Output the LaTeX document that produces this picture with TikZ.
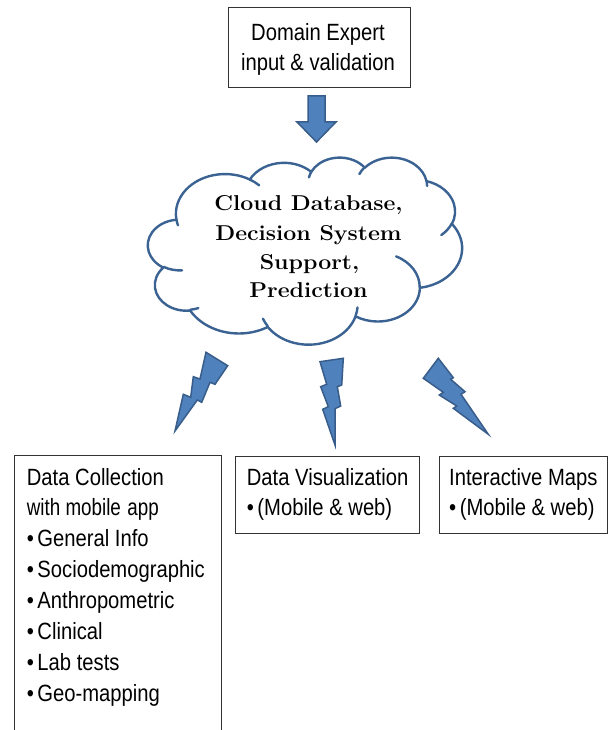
\documentclass[tikz,border=0pt]{standalone}
\usepackage{fontspec}
\newfontfamily\boxfont[FakeStretch=0.86]{Liberation Sans}
\newfontfamily\cloudfont[FakeStretch=1.075]{Latin Modern Roman}
\definecolor{boltfill}{RGB}{79,129,189}
\definecolor{boltline}{RGB}{56,93,138}
\definecolor{cloudline}{RGB}{58,98,146}
\begin{document}
\begin{tikzpicture}[x=1pt,y=-1pt,
  boxline/.style={draw=black!80, line width=1pt},
  lbl/.style={inner sep=0pt, font=\boxfont\fontsize{23.5}{28}\selectfont, anchor=base west},
  ctrlbl/.style={inner sep=0pt, font=\boxfont\fontsize{23.5}{28}\selectfont, anchor=base},
  cloudtxt/.style={inner sep=0pt, anchor=base, font=\cloudfont\bfseries\fontsize{21.5}{26}\selectfont},
  boltshape/.style={fill=boltfill, draw=boltline, line width=1.5pt, line join=miter},
  cloudstyle/.style={fill=white, draw=cloudline, line width=2.4pt, line join=round},
  cloudinner/.style={draw=cloudline, line width=2.4pt, line cap=round}]
\useasboundingbox (0,0) rectangle (611,730);
\clip (0,0) rectangle (611,730);

% top box
\draw[boxline] (228,8) rectangle (410,88);
\node[ctrlbl] (dom1) at (318,41) {Domain Expert};
\node[ctrlbl] (dom2) at (318,70.7) {input \& validation};

% down arrow
\draw[boltshape] (308,96) -- (325,96) -- (325,122) -- (336,122) -- (316.5,142) -- (297,122) -- (308,122) -- cycle;

% cloud (OOXML preset cloud)
\begin{scope}[shift={(148,157)}, x=0.72685pt, y=-0.43287pt]
  \gdef\cloudpath{}
  \foreach \w/\h/\s/\sw in {
    67.53/91.90/-190.4875/123.7805,
    53.33/72.67/-144.1024/89.9452,
    43.65/59.45/-145.8079/99.7230,
    48.57/65.95/-130.9861/117.2417,
    53.33/72.73/-78.7089/109.0269,
    67.75/92.20/-46.2673/130.2690,
    57.85/78.67/0.6250/114.0333,
    67.52/92.15/22.4516/115.1726,
    77.20/105.43/66.2426/75.7110,
    43.60/59.18/-274.9421/146.7356,
    43.45/59.45/-246.8285/152.5189}{
    \pgfmathsetmacro\ta{atan2(\w*sin(\s),\h*cos(\s))}
    \pgfmathsetmacro\tb{atan2(\w*sin(\s+\sw),\h*cos(\s+\sw))}
    \pgfmathsetmacro\dd{\tb-\ta}
    \pgfmathsetmacro\dd{\dd+360*round((\sw-\dd)/360)}
    \xdef\cloudpath{\cloudpath arc[start angle=\ta, delta angle=\dd, x radius=\w, y radius=\h]}
  }
  \edef\tmpcloud{\noexpand\draw[cloudstyle] (39,143.7) \cloudpath -- cycle;}
  \tmpcloud
  \foreach \px/\py/\w/\h/\s/\sw in {
    46.93/261.77/43.45/59.45/86.7420/26.4295,
    69.28/348.99/43.60/59.18/73.6105/11.4475,
    164.78/390.90/67.52/92.15/137.6242/14.0811,
    288.27/347.51/67.52/92.15/6.4533/15.9984,
    341.29/229.54/57.85/78.67/-70.2924/70.9174,
    417.98/153.54/53.33/72.73/30.3180/27.7515,
    383.24/54.26/48.57/65.95/-13.7443/14.8589,
    290.78/39.52/48.57/65.95/-149.1815/18.1954,
    221.41/47.20/43.65/59.45/-163.4943/17.6864,
    140.00/51.92/67.53/91.90/-66.7070/12.3194,
    41.27/157.89/67.53/91.90/157.6544/11.8582}{
    \pgfmathsetmacro\ta{atan2(\w*sin(\s),\h*cos(\s))}
    \pgfmathsetmacro\tb{atan2(\w*sin(\s+\sw),\h*cos(\s+\sw))}
    \pgfmathsetmacro\dd{\tb-\ta}
    \pgfmathsetmacro\dd{\dd+360*round((\sw-\dd)/360)}
    \draw[cloudinner] (\px,\py) arc[start angle=\ta, delta angle=\dd, x radius=\w, y radius=\h];
  }
\end{scope}

% cloud text
\node[cloudtxt] (c1) at (308.5,210.7) {Cloud Database,};
\node[cloudtxt] (c2) at (308.5,240.7) {Decision System};
\node[cloudtxt] (c3) at (309.5,269.3) {Support,};
\node[cloudtxt] (c4) at (308.5,297.7) {Prediction};

% lightning bolts
\draw[boltshape] (206,352.3) -- (227.7,365.7) -- (215,384.3) -- (210,382.3) -- (201.7,402.3) -- (197.3,400) -- (175,431) -- (183.3,394.3) -- (190.7,397.3) -- (193.3,376.7) -- (200,379) -- cycle;
\draw[boltshape] (320,361.7) -- (343.3,358.3) -- (341.7,385) -- (337.3,386.7) -- (340.7,406) -- (335,408.7) -- (335,445) -- (322.7,409.3) -- (328.3,406.7) -- (320.7,386.7) -- (326.7,384.3) -- cycle;
\draw[boltshape] (438.3,358.3) -- (453.3,377.7) -- (450.7,379.3) -- (465,391.7) -- (461,394.3) -- (488.3,434.3) -- (453.3,408.3) -- (456.7,406) -- (439.3,395) -- (443.3,392.3) -- (423.3,378.3) -- cycle;

% bottom boxes
\draw[boxline] (14,455) rectangle (221.7,745);
\draw[boxline] (235.7,456.7) rectangle (419.3,533.3);
\draw[boxline] (439,456.7) rectangle (607,533.3);

\node[lbl] (l1) at (26.7,485) {Data Collection};
\node[lbl] (l2) at (26.7,515) {\scalebox{0.93}[1]{with mobile\hspace{7pt}app}};
\node[lbl] (l3) at (26.7,546) {•\hspace{3.5pt}General Info};
\node[lbl] (l4) at (26.7,577.3) {•\hspace{3.5pt}Sociodemographic};
\node[lbl] (l5) at (26.7,608.3) {•\hspace{3.5pt}Anthropometric};
\node[lbl] (l6) at (26.7,639.3) {•\hspace{3.5pt}Clinical};
\node[lbl] (l7) at (26.7,670) {•\hspace{3.5pt}Lab tests};
\node[lbl] (l8) at (26.7,701) {•\hspace{3.5pt}Geo-mapping};

\node[lbl] (v1) at (246.7,485) {Data Visualization};
\node[lbl] (v2) at (246.7,515.7) {•\hspace{3.5pt}(Mobile \& web)};

\node[lbl] (m1) at (449,485) {Interactive Maps};
\node[lbl] (m2) at (449,515.7) {•\hspace{3.5pt}(Mobile \& web)};
\end{tikzpicture}
\end{document}
